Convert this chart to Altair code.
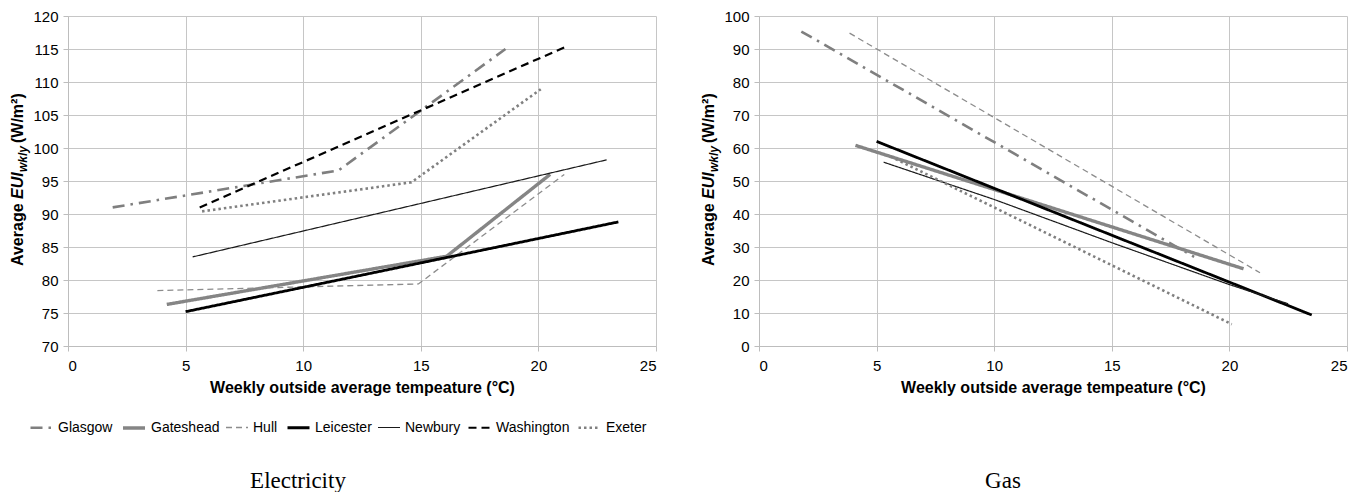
import altair as alt
import pandas as pd

# ---------------- data ----------------
cities_elec = ["Glasgow", "Gateshead", "Hull", "Leicester", "Newbury", "Washington", "Exeter"]
cities_gas = ["Glasgow", "Gateshead", "Hull", "Leicester", "Newbury", "Exeter"]

# Electricity: temperature (°C) and EUI (W/m2)
e_glasgow_t = [1.9, 11.5, 18.6]
e_glasgow_v = [91.0, 96.6, 115.0]
e_gateshead_t = [4.2, 16.1, 20.5]
e_gateshead_v = [76.3, 83.6, 96.0]
e_hull_t = [3.8, 14.9, 21.1]
e_hull_v = [78.4, 79.4, 96.0]
e_leicester_t = [5.0, 23.4]
e_leicester_v = [75.2, 88.8]
e_newbury_t = [5.3, 22.9]
e_newbury_v = [83.5, 98.2]
e_washington_t = [5.6, 21.2]
e_washington_v = [91.0, 115.4]
e_exeter_t = [5.7, 14.6, 20.1]
e_exeter_v = [90.4, 94.8, 108.9]

# Gas
g_glasgow_t = [1.8, 18.5]
g_glasgow_v = [95.3, 27.0]
g_gateshead_t = [4.1, 20.6]
g_gateshead_v = [60.8, 23.4]
g_hull_t = [3.85, 21.3]
g_hull_v = [94.8, 22.2]
g_leicester_t = [5.0, 23.5]
g_leicester_v = [62.0, 9.4]
g_newbury_t = [5.3, 10.0, 15.0, 20.0, 22.5]
g_newbury_v = [55.7, 44.4, 31.3, 18.6, 12.8]
g_exeter_t = [5.6, 20.1]
g_exeter_v = [57.4, 6.6]

# styles
style_color = {"Glasgow": "#7f7f7f", "Gateshead": "#858585", "Hull": "#8c8c8c",
               "Leicester": "#000000", "Newbury": "#1a1a1a", "Washington": "#000000",
               "Exeter": "#808080"}
style_width = {"Glasgow": 2.6, "Gateshead": 3.4, "Hull": 1.3, "Leicester": 2.8,
               "Newbury": 1.2, "Washington": 2.2, "Exeter": 2.6}
style_dash = {"Glasgow": [12, 6, 2.5, 6], "Gateshead": [1, 0], "Hull": [6, 4],
              "Leicester": [1, 0], "Newbury": [1, 0], "Washington": [8, 5],
              "Exeter": [2.5, 3]}


def frame(pairs):
    rows = []
    for city, ts, vs in pairs:
        for t, v in zip(ts, vs):
            rows.append({"city": city, "temp": t, "eui": v})
    return pd.DataFrame(rows)


elec_df = frame([
    ("Glasgow", e_glasgow_t, e_glasgow_v),
    ("Gateshead", e_gateshead_t, e_gateshead_v),
    ("Hull", e_hull_t, e_hull_v),
    ("Leicester", e_leicester_t, e_leicester_v),
    ("Newbury", e_newbury_t, e_newbury_v),
    ("Washington", e_washington_t, e_washington_v),
    ("Exeter", e_exeter_t, e_exeter_v),
])
gas_df = frame([
    ("Glasgow", g_glasgow_t, g_glasgow_v),
    ("Gateshead", g_gateshead_t, g_gateshead_v),
    ("Hull", g_hull_t, g_hull_v),
    ("Leicester", g_leicester_t, g_leicester_v),
    ("Newbury", g_newbury_t, g_newbury_v),
    ("Exeter", g_exeter_t, g_exeter_v),
])

FONT = "Liberation Sans, Arial, sans-serif"
W, H = 588, 330


def panel(df, cities, ydom, ystep, title, legend_x, col_pad, title_dx):
    leg = alt.Legend(orient="none", legendX=legend_x, legendY=H + 69,
                     direction="horizontal", title=None, symbolType="stroke",
                     symbolSize=484, labelFont=FONT, labelFontSize=14,
                     labelColor="#000000", labelOffset=4, columnPadding=col_pad)
    lines = alt.Chart(df).mark_line(strokeCap="butt").encode(
        x=alt.X("temp:Q", scale=alt.Scale(domain=[0, 25], nice=False),
                axis=alt.Axis(values=list(range(0, 26, 5)),
                              title="Weekly outside average tempeature (°C)")),
        y=alt.Y("eui:Q", scale=alt.Scale(domain=ydom, nice=False),
                axis=alt.Axis(values=list(range(ydom[0], ydom[1] + 1, ystep)), title=None)),
        color=alt.Color("city:N", scale=alt.Scale(type="ordinal", domain=cities,
                        range=[style_color[c] for c in cities]), legend=leg),
        strokeDash=alt.StrokeDash("city:N", scale=alt.Scale(type="ordinal", domain=cities,
                        range=[style_dash[c] for c in cities]), legend=leg),
        strokeWidth=alt.StrokeWidth("city:N", scale=alt.Scale(type="ordinal", domain=cities,
                        range=[style_width[c] for c in cities]), legend=leg),
    )
    one = pd.DataFrame({"k": [0]})
    base_t = dict(angle=270, baseline="alphabetic", font=FONT,
                  fontWeight="bold", color="#000000")
    t1 = alt.Chart(one).mark_text(fontSize=16, align="left", **base_t).encode(
        x=alt.value(-45), y=alt.value(250), text=alt.value("Average"))
    t2 = alt.Chart(one).mark_text(fontSize=16, align="left", fontStyle="italic", **base_t).encode(
        x=alt.value(-45), y=alt.value(183), text=alt.value("EUI"))
    t3 = alt.Chart(one).mark_text(fontSize=12, align="left", fontStyle="italic", **base_t).encode(
        x=alt.value(-41), y=alt.value(156), text=alt.value("wkly"))
    t4 = alt.Chart(one).mark_text(fontSize=16, align="left", **base_t).encode(
        x=alt.value(-45), y=alt.value(127), text=alt.value("(W/m²)"))
    return alt.layer(lines, t1, t2, t3, t4).properties(
        width=W, height=H,
        title=alt.TitleParams(title, orient="bottom", font="Liberation Serif",
                              fontSize=23, fontWeight="normal", color="#000000",
                              offset=75, dx=title_dx))


left = panel(elec_df, cities_elec, [70, 120], 5, "Electricity", -39, 3, -64)
right = panel(gas_df, cities_gas, [0, 100], 10, "Gas", -19, 20, -50)

chart = alt.hconcat(left, right, spacing=44).properties(
    padding={"left": 10, "top": 9, "right": 5, "bottom": 5}
).configure_view(stroke=None).configure_axis(
    grid=True, gridColor="#c6c6c6", gridWidth=1,
    domainColor="#bdbdbd", tickColor="#bdbdbd", tickSize=5,
    labelFont=FONT, labelFontSize=15, labelColor="#000000",
    titleFont=FONT, titleFontSize=16, titleFontWeight="bold", titleColor="#000000",
).configure_axisX(labelPadding=7, titlePadding=6).configure_axisY(labelPadding=5)

chart.save("out.html", embed_options={"renderer": "svg", "actions": False})
